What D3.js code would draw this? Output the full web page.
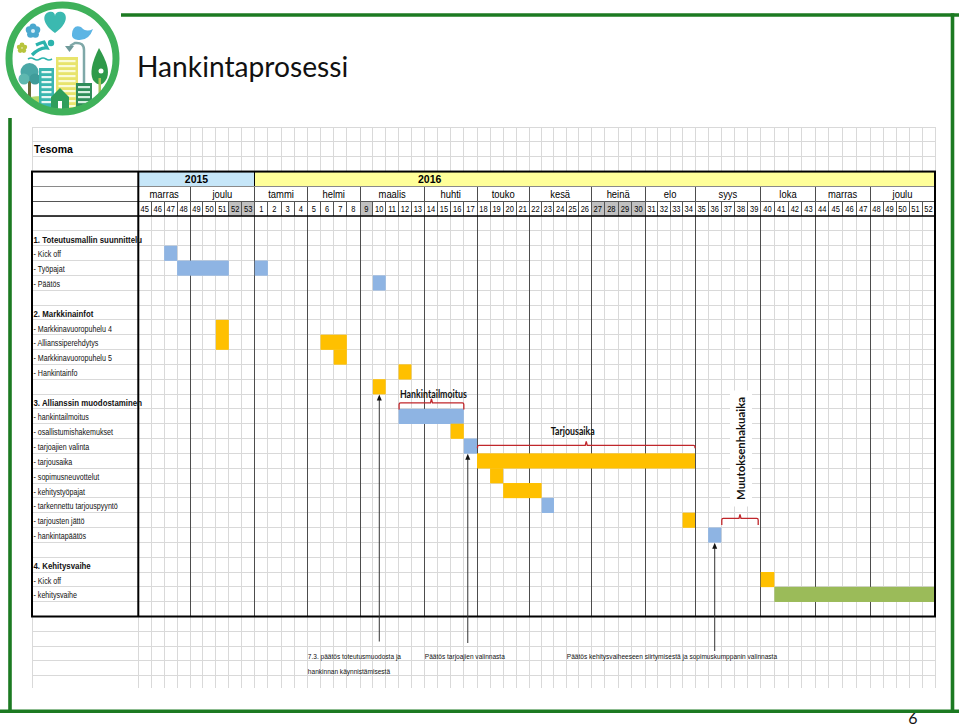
<!DOCTYPE html>
<html><head><meta charset="utf-8">
<script src="https://cdn.jsdelivr.net/npm/d3@7"></script>
<style>html,body{margin:0;padding:0;background:#fff}svg{display:block}</style>
</head><body>
<svg id="chart" width="959" height="726"></svg>
<script>
// ---------------- DATA ----------------
const title = "Hankintaprosessi";
const projectName = "Tesoma";
const pageNumber = "6";

const years = ["2015", "2016"];
const yearWeekCounts = [9, 52];

const months = ["marras","joulu","tammi","helmi","maalis","huhti","touko","kesä","heinä","elo","syys","loka","marras","joulu"];
const monthWeekCounts = [4,5,4,4,5,4,4,5,4,4,5,4,4,5];

const weekLabels = [45,46,47,48,49,50,51,52,53,
  1,2,3,4,5,6,7,8,9,10,11,12,13,14,15,16,17,18,19,20,21,22,23,24,25,26,
  27,28,29,30,31,32,33,34,35,36,37,38,39,40,41,42,43,44,45,46,47,48,49,50,51,52];

const shadedWeeks = ["2015-52","2015-53","2016-9","2016-27","2016-28","2016-29","2016-30"];

const rowLabels = [
  "",
  "1. Toteutusmallin suunnittelu", "- Kick off", "- Työpajat", "- Päätös", "",
  "2. Markkinainfot", "- Markkinavuoropuhelu 4", "- Allianssiperehdytys", "- Markkinavuoropuhelu 5", "- Hankintainfo", "",
  "3. Allianssin muodostaminen", "- hankintailmoitus", "- osallistumishakemukset", "- tarjoajien valinta",
  "- tarjousaika", "- sopimusneuvottelut", "- kehitystyöpajat", "- tarkennettu tarjouspyyntö",
  "- tarjousten jättö", "- hankintapäätös", "",
  "4. Kehitysvaihe", "- Kick off", "- kehitysvaihe", ""
];

// bars: row index into rowLabels, start year/week, duration in weeks, kind
const bars = [
  {row: 2,  year: 2015, week: 47, weeks: 1,  kind: "blue"},
  {row: 3,  year: 2015, week: 48, weeks: 4,  kind: "blue"},
  {row: 3,  year: 2016, week: 1,  weeks: 1,  kind: "blue"},
  {row: 4,  year: 2016, week: 10, weeks: 1,  kind: "blue"},
  {row: 7,  year: 2015, week: 51, weeks: 1,  kind: "yellow"},
  {row: 8,  year: 2015, week: 51, weeks: 1,  kind: "yellow"},
  {row: 8,  year: 2016, week: 6,  weeks: 2,  kind: "yellow"},
  {row: 9,  year: 2016, week: 7,  weeks: 1,  kind: "yellow"},
  {row: 10, year: 2016, week: 12, weeks: 1,  kind: "yellow"},
  {row: 11, year: 2016, week: 10, weeks: 1,  kind: "yellow"},
  {row: 13, year: 2016, week: 12, weeks: 5,  kind: "blue"},
  {row: 14, year: 2016, week: 16, weeks: 1,  kind: "yellow"},
  {row: 15, year: 2016, week: 17, weeks: 1,  kind: "blue"},
  {row: 16, year: 2016, week: 18, weeks: 17, kind: "yellow"},
  {row: 17, year: 2016, week: 19, weeks: 1,  kind: "yellow"},
  {row: 18, year: 2016, week: 20, weeks: 3,  kind: "yellow"},
  {row: 19, year: 2016, week: 23, weeks: 1,  kind: "blue"},
  {row: 20, year: 2016, week: 34, weeks: 1,  kind: "yellow"},
  {row: 21, year: 2016, week: 36, weeks: 1,  kind: "blue"},
  {row: 24, year: 2016, week: 40, weeks: 1,  kind: "yellow"},
  {row: 25, year: 2016, week: 41, weeks: 12, kind: "green"}
];

// decision milestones: upward arrows from under a bar down to the notes
const milestones = [
  {row: 11, year: 2016, week: 10},
  {row: 15, year: 2016, week: 17},
  {row: 21, year: 2016, week: 36}
];
const notes = [
  {year: 2016, week: 5,  lines: ["7.3. päätös toteutusmuodosta ja", "hankinnan käynnistämisestä"]},
  {year: 2016, week: 14, lines: ["Päätös tarjoajien valinnasta"]},
  {year: 2016, week: 25, lines: ["Päätös kehitysvaiheeseen siirtymisestä ja sopimuskumppanin valinnasta"]}
];

// braces marking periods (row = row the brace sits in)
const braces = [
  {label: "Hankintailmoitus",  row: 12, fromYear: 2016, fromWeek: 12, toYear: 2016, toWeek: 16, vertical: false},
  {label: "Tarjousaika",       row: 15, fromYear: 2016, fromWeek: 18, toYear: 2016, toWeek: 34, vertical: false},
  {label: "Muutoksenhakuaika", row: 20, fromYear: 2016, fromWeek: 37, toYear: 2016, toWeek: 39, vertical: true}
];

// ---------------- LAYOUT / STYLE ----------------
const W = 959, H = 726;
const colAnchors = [0, 9, 17, 22, 26, 30, 35, 39, 43, 48, 52, 56, 61];
const colPixels  = [138.3, 254.7, 360, 424.3, 477, 529.3, 591, 645.3, 695, 760.7, 815.3, 870, 935];
const x = d3.scaleLinear().domain(colAnchors).range(colPixels);
const y = d3.scaleLinear().domain([0, 32]).range([141.9, 616.5]);
const ROW_H = y(1) - y(0);
const LEFT = 32, RIGHT = 935;
const FIRST_BODY_ROW = 5;
const barColors = {blue: "#8eb4e3", yellow: "#ffc000", green: "#9bbb59"};
const GRID = "#d9d9d9";
const FRAME_GREEN = "#1c7a22";
const BRACE_RED = "#c0262b";

const svg = d3.select("#chart");
svg.append("rect").attr("width", W).attr("height", H).attr("fill", "#fff");

function fontAvailable(name) {
  const c = document.createElement("canvas").getContext("2d");
  c.font = "20px monospace"; const a = c.measureText("abcdefghijklmnopWMil").width;
  c.font = `20px "${name}", monospace`; const b = c.measureText("abcdefghijklmnopWMil").width;
  return Math.abs(a - b) > 0.5;
}
const NARROW = fontAvailable("Liberation Sans Narrow") ? "Liberation Sans Narrow" : null;
function narrowText(g, px, py, text, size, opts = {}) {
  const t = g.append("text").text(text)
    .attr("font-size", size)
    .attr("fill", opts.fill || "#000")
    .attr("font-weight", opts.bold ? "bold" : "normal")
    .attr("text-anchor", opts.anchor || "start");
  if (NARROW) {
    t.attr("x", px).attr("y", py).attr("font-family", `"${NARROW}", "Arial Narrow", sans-serif`);
  } else {
    t.attr("x", 0).attr("y", 0).attr("font-family", `"Liberation Sans", Arial, sans-serif`)
     .attr("transform", `translate(${px},${py}) scale(0.82,1)`);
  }
  return t;
}

const weekKeys = [];
{
  let k = 0;
  years.forEach((yr, i) => { for (let j = 0; j < yearWeekCounts[i]; j++) weekKeys.push(`${yr}-${weekLabels[k++]}`); });
}
const colOf = (yr, wk) => weekKeys.indexOf(`${yr}-${wk}`);
const NCOL = weekKeys.length;

// ---------------- BACKGROUND GRID ----------------
const grid = svg.append("g").attr("stroke", GRID).attr("stroke-width", 1).attr("shape-rendering", "crispEdges");
const GRID_TOP = y(-1), GRID_BOTTOM = 688;
d3.range(0, NCOL + 1).forEach(i => {
  grid.append("line").attr("x1", x(i)).attr("x2", x(i)).attr("y1", GRID_TOP).attr("y2", GRID_BOTTOM);
});
grid.append("line").attr("x1", LEFT).attr("x2", LEFT).attr("y1", GRID_TOP).attr("y2", GRID_BOTTOM);
d3.range(-1, 37).forEach(r => {
  if (y(r) > GRID_BOTTOM) return;
  grid.append("line").attr("x1", LEFT).attr("x2", RIGHT).attr("y1", y(r)).attr("y2", y(r));
});

// ---------------- HEADER FILLS ----------------
const head = svg.append("g");
let c0 = 0;
const yearFill = ["#c6e6f8", "#ffff99"];
years.forEach((yr, i) => {
  head.append("rect").attr("x", x(c0)).attr("y", y(2)).attr("width", x(c0 + yearWeekCounts[i]) - x(c0)).attr("height", ROW_H)
    .attr("fill", yearFill[i]);
  c0 += yearWeekCounts[i];
});
head.append("rect").attr("x", LEFT).attr("y", y(2)).attr("width", x(0) - LEFT).attr("height", ROW_H * 3).attr("fill", "#fff");
shadedWeeks.forEach(k => {
  const i = weekKeys.indexOf(k);
  head.append("rect").attr("x", x(i)).attr("y", y(4)).attr("width", x(i + 1) - x(i)).attr("height", ROW_H).attr("fill", "#c0c0c0");
});
head.append("rect").attr("x", x(0)).attr("y", y(3)).attr("width", x(NCOL) - x(0)).attr("height", ROW_H).attr("fill", "#fff");

// ---------------- MONTH LINES IN BODY ----------------
const monthStarts = [];
{ let s = 0; monthWeekCounts.forEach(n => { monthStarts.push(s); s += n; }); }
const lines = svg.append("g").attr("shape-rendering", "crispEdges");
monthStarts.slice(1).forEach(s => {
  lines.append("line").attr("x1", x(s)).attr("x2", x(s)).attr("y1", y(3)).attr("y2", y(32))
    .attr("stroke", "#4d4d4d").attr("stroke-width", 1);
});

// ---------------- BARS ----------------
svg.append("g").selectAll("rect").data(bars).join("rect")
  .attr("x", d => x(colOf(d.year, d.week)))
  .attr("y", d => y(FIRST_BODY_ROW + d.row))
  .attr("width", d => x(colOf(d.year, d.week) + d.weeks) - x(colOf(d.year, d.week)))
  .attr("height", ROW_H + 0.3)
  .attr("fill", d => barColors[d.kind]);

// ---------------- HEADER BORDERS ----------------
const hb = svg.append("g").attr("shape-rendering", "crispEdges");
d3.range(1, NCOL).forEach(i => {
  hb.append("line").attr("x1", x(i)).attr("x2", x(i)).attr("y1", y(4)).attr("y2", y(5)).attr("stroke", "#555").attr("stroke-width", 1);
});
hb.append("line").attr("x1", LEFT).attr("x2", RIGHT).attr("y1", y(3)).attr("y2", y(3)).attr("stroke", "#8a8a8a");
hb.append("line").attr("x1", LEFT).attr("x2", RIGHT).attr("y1", y(4)).attr("y2", y(4)).attr("stroke", "#555");
hb.append("line").attr("x1", x(yearWeekCounts[0])).attr("x2", x(yearWeekCounts[0])).attr("y1", y(2)).attr("y2", y(3)).attr("stroke", "#000").attr("stroke-width", 1.5);
const thick = svg.append("g").attr("stroke", "#000").attr("fill", "none");
thick.append("rect").attr("x", LEFT).attr("y", y(2)).attr("width", RIGHT - LEFT).attr("height", y(32) - y(2)).attr("stroke-width", 2);
thick.append("line").attr("x1", LEFT).attr("x2", RIGHT).attr("y1", y(5)).attr("y2", y(5)).attr("stroke-width", 1.6);
thick.append("line").attr("x1", x(0)).attr("x2", x(0)).attr("y1", y(2)).attr("y2", y(32)).attr("stroke-width", 2);

// ---------------- HEADER TEXT ----------------
svg.append("text").attr("x", 34).attr("y", y(0) + ROW_H - 3.5).text(projectName)
  .attr("font-family", "'Liberation Sans', Arial, sans-serif").attr("font-weight", "bold").attr("font-size", 10.5);
c0 = 0;
years.forEach((yr, i) => {
  const span = i === 0 ? yearWeekCounts[i] : 27;
  const cx = (x(c0) + x(c0 + span)) / 2;
  svg.append("text").attr("x", cx).attr("y", y(2) + ROW_H - 3.3).attr("text-anchor", "middle").text(yr)
    .attr("font-family", "'Liberation Sans', Arial, sans-serif").attr("font-weight", "bold").attr("font-size", 10.5);
  c0 += yearWeekCounts[i];
});
const ht = svg.append("g");
months.forEach((m, i) => {
  const s = monthStarts[i], e = s + monthWeekCounts[i];
  narrowText(ht, (x(s) + x(e)) / 2, y(3) + ROW_H - 3.3, m, 11.5, {anchor: "middle"});
});
weekLabels.forEach((w, i) => {
  narrowText(ht, (x(i) + x(i + 1)) / 2, y(4) + ROW_H - 3.6, String(w), 9.2, {anchor: "middle"});
});

// ---------------- ROW LABELS ----------------
const lg = svg.append("g");
rowLabels.forEach((lab, i) => {
  if (!lab) return;
  const bold = /^\d/.test(lab);
  narrowText(lg, 33.5, y(FIRST_BODY_ROW + i) + ROW_H - 3.2, lab, bold ? 9.6 : 8.7, {bold, fill: "#111"});
});

// ---------------- MILESTONE ARROWS & NOTES ----------------
const arrowEnds = [641.5, 643, 651];
const ag = svg.append("g");
milestones.forEach((m, i) => {
  const c = colOf(m.year, m.week);
  const ax = i === 1 ? x(c) + (x(c + 1) - x(c)) * 0.3 : (x(c) + x(c + 1)) / 2;
  const top = y(FIRST_BODY_ROW + m.row + 1) + 0.5;
  ag.append("line").attr("x1", ax).attr("x2", ax).attr("y1", top + 4).attr("y2", arrowEnds[i])
    .attr("stroke", "#333").attr("stroke-width", 1);
  ag.append("path").attr("d", `M${ax},${top} L${ax - 2.5},${top + 6} L${ax + 2.5},${top + 6} Z`).attr("fill", "#111");
});
const ng = svg.append("g");
notes.forEach(n => {
  const c = colOf(n.year, n.week);
  n.lines.forEach((ln, j) => {
    narrowText(ng, x(c) + 0.5, y(34) + ROW_H - 1.8 + j * ROW_H, ln, 8, {fill: "#111"});
  });
});

// ---------------- BRACES ----------------
const bg = svg.append("g");
const braceOffsets = [8.9, 6.8, 5.7];
const labelWidths = [67, 44, 103];
braces.forEach((b, i) => {
  const xa = x(colOf(b.fromYear, b.fromWeek)) + 0.5;
  const xb = i === 2 ? x(colOf(b.toYear, b.toWeek) + 1) - 2.5 : x(colOf(b.toYear, b.toWeek) + 1);
  const by = y(FIRST_BODY_ROW + b.row) + braceOffsets[i];
  const mx = (xa + xb) / 2;
  const drop = i === 1 ? 3 : 6.5;
  bg.append("path")
    .attr("d", `M${xa},${by + drop} L${xa},${by + 1.5} Q${xa},${by} ${xa + 1.5},${by} L${mx - 1},${by} L${mx},${by - 4} L${mx + 1},${by} L${xb - 1.5},${by} Q${xb},${by} ${xb},${by + 1.5} L${xb},${by + drop}`)
    .attr("fill", "none").attr("stroke", BRACE_RED).attr("stroke-width", 1.3);
  if (!b.vertical) {
    const lx = i === 0 ? mx + 2 : mx - 13.5;
    const ly = i === 0 ? by - 4.5 : by - 10.5;
    bg.append("text").attr("x", lx).attr("y", ly)
      .attr("text-anchor", "middle").text(b.label)
      .attr("textLength", labelWidths[i]).attr("lengthAdjust", "spacingAndGlyphs")
      .attr("font-family", "Lato, 'Open Sans', sans-serif").attr("font-weight", "bold").attr("font-size", 11.5).attr("fill", "#111");
  } else {
    const cx = mx + 1, cy = 448.5;
    bg.append("rect").attr("x", cx - 11).attr("y", cy - 58).attr("width", 22).attr("height", 116).attr("fill", "#fff");
    bg.append("text").attr("transform", `translate(${cx + 4},${cy}) rotate(-90)`)
      .attr("text-anchor", "middle").text(b.label)
      .attr("textLength", labelWidths[i]).attr("lengthAdjust", "spacingAndGlyphs")
      .attr("font-family", "Lato, 'Open Sans', sans-serif").attr("font-weight", "bold").attr("font-size", 11.5).attr("fill", "#111");
  }
});

// ---------------- FRAME, TITLE, PAGE NUMBER ----------------
const fr = svg.append("g").attr("stroke", FRAME_GREEN).attr("stroke-width", 3.6);
fr.append("line").attr("x1", 121).attr("x2", W).attr("y1", 15).attr("y2", 15);
fr.append("line").attr("x1", 10).attr("x2", 10).attr("y1", 118).attr("y2", 711);
fr.append("line").attr("x1", 952.5).attr("x2", 952.5).attr("y1", 13.2).attr("y2", 711);
fr.append("line").attr("x1", 0).attr("x2", W).attr("y1", 711.3).attr("y2", 711.3);

svg.append("text").attr("x", 137).attr("y", 77).text(title)
  .attr("font-family", "Lato, 'Open Sans', sans-serif").attr("font-size", 28.2).attr("fill", "#111");
svg.append("text").attr("x", 913).attr("y", 723.5).attr("text-anchor", "middle").text(pageNumber)
  .attr("font-family", "Lato, 'Open Sans', sans-serif").attr("font-size", 16).attr("fill", "#111");

// ---------------- LOGO ----------------
const logo = svg.append("g");
const LX = 62.5, LY = 58.5, LR = 53.5;
logo.append("clipPath").attr("id", "logoClip").append("circle").attr("cx", LX).attr("cy", LY).attr("r", LR - 3);
logo.append("circle").attr("cx", LX).attr("cy", LY).attr("r", LR).attr("fill", "#fff");
const li = logo.append("g").attr("clip-path", "url(#logoClip)");
li.append("ellipse").attr("cx", 45).attr("cy", 112).attr("rx", 45).attr("ry", 16).attr("fill", "#b5d86a");
li.append("rect").attr("x", 28).attr("y", 76).attr("width", 3).attr("height", 22).attr("fill", "#6b6b3a");
li.append("circle").attr("cx", 29.5).attr("cy", 72).attr("r", 9).attr("fill", "#4aa7a6");
li.append("circle").attr("cx", 24).attr("cy", 79).attr("r", 5.5).attr("fill", "#5fb8b0");
li.append("circle").attr("cx", 35).attr("cy", 79).attr("r", 5.5).attr("fill", "#3f9c9a");
li.append("rect").attr("x", 39).attr("y", 68).attr("width", 15).attr("height", 42).attr("fill", "#3bb6b0");
d3.range(0, 7).forEach(k => li.append("rect").attr("x", 41.5).attr("y", 71 + k * 5).attr("width", 10).attr("height", 2.2).attr("fill", "#e8f7f5"));
li.append("rect").attr("x", 56).attr("y", 57).attr("width", 22).attr("height", 53).attr("fill", "#e8e46c");
d3.range(0, 10).forEach(k => li.append("rect").attr("x", 58.5).attr("y", 60 + k * 5).attr("width", 17).attr("height", 2.2).attr("fill", "#fafbd8"));
li.append("path").attr("d", "M84,108 L84,50 Q84,42 75,43 L70,46").attr("fill", "none").attr("stroke", "#7fa8a8").attr("stroke-width", 2.5);
li.append("path").attr("d", "M65,46 L74,46 L69.5,52 Z").attr("fill", "#6f9a9a");
li.append("rect").attr("x", 76).attr("y", 83).attr("width", 16).attr("height", 27).attr("fill", "#2f8d59");
d3.range(0, 4).forEach(k => li.append("rect").attr("x", 78).attr("y", 86 + k * 5).attr("width", 12).attr("height", 2.2).attr("fill", "#d8efe2"));
li.append("path").attr("d", "M51,97 L60,88 L69,97 L69,110 L51,110 Z").attr("fill", "#2f9e5b");
li.append("rect").attr("x", 58).attr("y", 101).attr("width", 4).attr("height", 8).attr("fill", "#fff");
li.append("path").attr("d", "M99,48 Q111,68 107,78 Q101,90 93,80 Q88,70 99,48 Z").attr("fill", "#2f9a4a");
li.append("rect").attr("x", 98.5).attr("y", 78).attr("width", 2.5).attr("height", 24).attr("fill", "#a7c35a");
li.append("circle").attr("cx", 101).attr("cy", 71).attr("r", 2.5).attr("fill", "#fff");
li.append("path").attr("d", "M55,33 C42,24 42,14 49,12 C53,11 55,13 55,16 C55,13 58,11 62,12 C68,14 68,24 55,33 Z").attr("fill", "#3bb9b0");
li.append("path").attr("d", "M72,34 Q73,24 81,27 Q86,33 93,29 Q89,41 78,40 Q71,39 72,34 Z").attr("fill", "#5db5e4");
[[0,-4],[3.8,-1.2],[2.4,3.3],[-2.4,3.3],[-3.8,-1.2]].forEach(p => li.append("circle").attr("cx", 33 + p[0]).attr("cy", 31 + p[1]).attr("r", 3.5).attr("fill", "#4aa8cf"));
li.append("circle").attr("cx", 33).attr("cy", 31).attr("r", 2).attr("fill", "#d6eef7");
[[0,-3],[2.8,-0.9],[1.8,2.5],[-1.8,2.5],[-2.8,-0.9]].forEach(p => li.append("circle").attr("cx", 22 + p[0]).attr("cy", 48 + p[1]).attr("r", 2.4).attr("fill", "#b7c43d"));
li.append("circle").attr("cx", 51).attr("cy", 43).attr("r", 3.2).attr("fill", "#2bb3ad");
li.append("path").attr("d", "M32,55 Q40,47 47,48 L44,42 Q40,43 36,45").attr("fill", "none").attr("stroke", "#2bb3ad").attr("stroke-width", 3.2);
li.append("path").attr("d", "M28,59 q3,-2 6,0 t6,0 t6,0 t6,0").attr("fill", "none").attr("stroke", "#2bb3ad").attr("stroke-width", 1.6);
logo.append("circle").attr("cx", LX).attr("cy", LY).attr("r", LR).attr("fill", "none").attr("stroke", "#3fb15a").attr("stroke-width", 7);
</script>
</body></html>
